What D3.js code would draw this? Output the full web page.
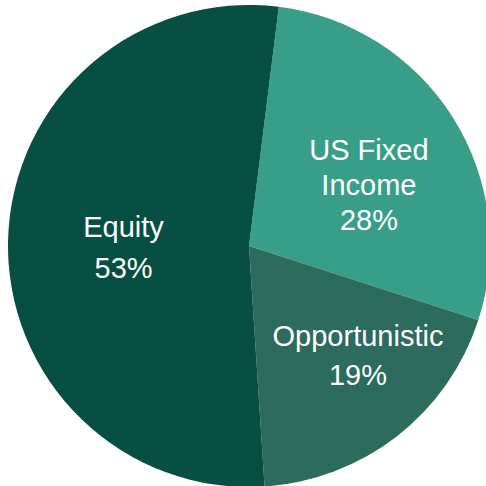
<!DOCTYPE html>
<html>
<head>
<meta charset="utf-8">
<script src="https://cdn.jsdelivr.net/npm/d3@7"></script>
<style>
html,body{margin:0;padding:0;background:#fff;}
svg{display:block;}
</style>
</head>
<body>
<svg id="chart" width="486" height="486"></svg>
<script>
// Data
const categories = ["US Fixed Income", "Opportunistic", "Equity"];
const values = [28, 19, 53];
const labelLines = [["US Fixed", "Income", "28%"], ["Opportunistic", "19%"], ["Equity", "53%"]];
const colors = ["#389e8a", "#2c6b5e", "#064f42"];

// Layout
const W = 486, H = 486;
const cx = 249, cy = 246, R = 241;
const startAngle = 7.1 * Math.PI / 180;
// label block centre offsets (polar: angle deg from top clockwise, radius) and line heights
const labelPolar = [{a: 63.0, r: 134.6, lh: 35}, {a: 135.0, r: 154.1, lh: 39}, {a: 269.3, r: 125.5, lh: 41}];
const fontSize = 29;

const svg = d3.select("#chart");
const g = svg.append("g").attr("transform", `translate(${cx},${cy})`);

const pie = d3.pie().sort(null).value(d => d).startAngle(startAngle).endAngle(startAngle + 2 * Math.PI);
const arcs = pie(values);
const arc = d3.arc().innerRadius(0).outerRadius(R);

g.selectAll("path.slice").data(arcs).join("path")
  .attr("class", "slice")
  .attr("d", arc)
  .attr("fill", (d, i) => colors[i]);

const capH = fontSize * 0.716;
arcs.forEach((d, i) => {
  const p = labelPolar[i];
  const ang = p.a * Math.PI / 180;
  const x = Math.sin(ang) * p.r;
  const y = -Math.cos(ang) * p.r;
  const lines = labelLines[i];
  const n = lines.length;
  const blockH = capH + (n - 1) * p.lh;
  const firstBaseline = y - blockH / 2 + capH;
  const t = g.append("text")
    .attr("text-anchor", "middle")
    .attr("font-family", "Liberation Sans, Arial, sans-serif")
    .attr("font-size", fontSize)
    .attr("fill", "#ffffff");
  lines.forEach((ln, j) => {
    t.append("tspan").attr("x", x).attr("y", firstBaseline + j * p.lh).text(ln);
  });
});
</script>
</body>
</html>
